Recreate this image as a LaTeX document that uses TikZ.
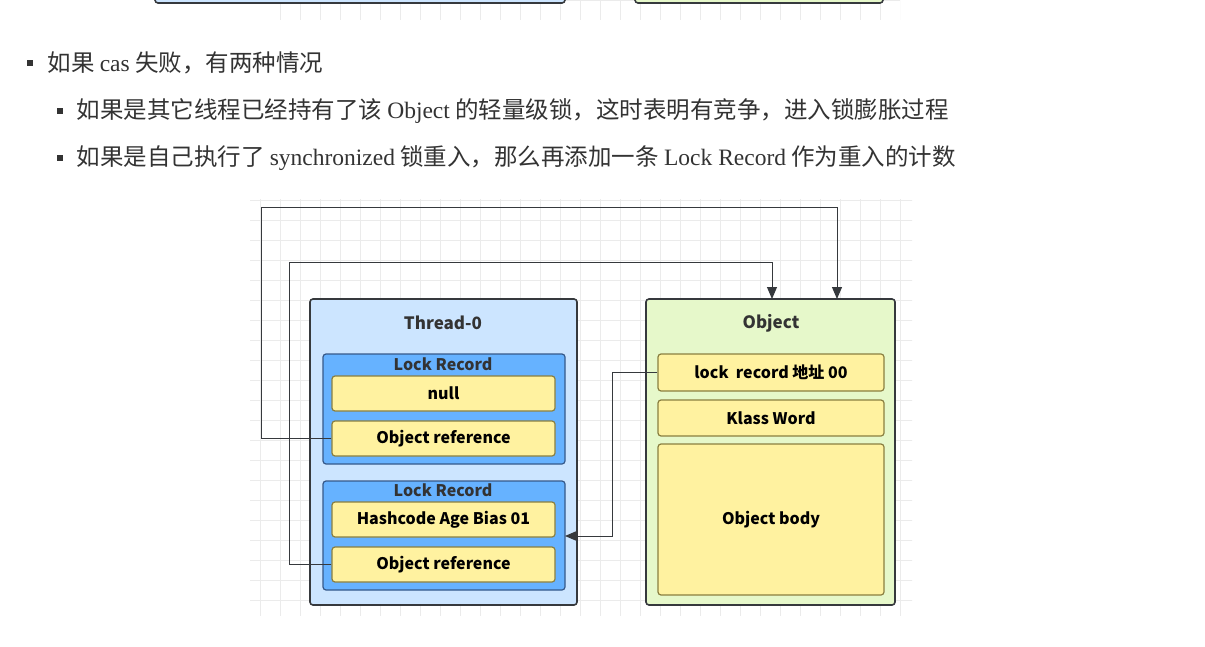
\documentclass[tikz,border=0pt]{standalone}
\usepackage{fontspec}
\setmainfont{Liberation Serif}
\newfontfamily\cjk{Noto Sans CJK SC}
\newfontfamily\dg{Noto Sans CJK SC}
\usetikzlibrary{arrows.meta}
\definecolor{tfill}{HTML}{CCE5FF}
\definecolor{lrfill}{HTML}{66B2FF}
\definecolor{lrdraw}{HTML}{36598A}
\definecolor{yfill}{HTML}{FFF2A0}
\definecolor{ydraw}{HTML}{8A7F40}
\definecolor{gfill}{HTML}{E6F8CA}
\definecolor{odraw}{HTML}{36393D}
\definecolor{gridc}{HTML}{EBEBEB}
\definecolor{txt}{HTML}{333333}
\tikzset{
 outer/.style={draw=odraw,line width=1.6pt,rounded corners=3pt},
 lr/.style={draw=lrdraw,fill=lrfill,line width=1.2pt,rounded corners=3pt},
 yb/.style={draw=ydraw,fill=yfill,line width=1.2pt,rounded corners=3pt,font=\dg\bfseries\fontsize{16}{18}\selectfont,text=black},
 lbl/.style={font=\dg\bfseries\fontsize{16}{18}\selectfont,text=txt},
 ttl/.style={font=\dg\bfseries\fontsize{17}{19}\selectfont,text=txt},
 bul/.style={font=\cjk\fontsize{23.5}{26}\selectfont,text=txt,anchor=west},
 conn/.style={draw=odraw,line width=1pt,-{Triangle[length=12pt,width=10pt]}},
}
\newcommand{\bx}[6]{\node[#1,minimum width=#4pt-#2pt,minimum height=#5pt-#3pt,inner sep=0pt] (#6) at ({(#2+#4)/2},{(#3+#5)/2}) {};}
\begin{document}
\begin{tikzpicture}[x=1pt,y=-1pt]
\useasboundingbox (0,0) rectangle (1205,647);
\fill[white] (0,0) rectangle (1205,647);
% grids
\begin{scope}
\clip (262,0) rectangle (900,20);
\draw[gridc,step=20pt] (250,-20) grid (920,40);
\end{scope}
\begin{scope}
\clip (250,200) rectangle (912,615);
\draw[gridc,step=20pt] (240,190) grid (920,620);
\end{scope}
% partial boxes at top
\draw[outer,fill=tfill] (155,-10) rectangle (565,3);
\draw[outer,fill=gfill] (635,-10) rectangle (883,3);
% bullets
\fill[txt] (27,60) rectangle (33,66);
\fill[txt] (57,108) rectangle (63,114);
\fill[txt] (57,155) rectangle (63,161);
\node[bul] (b1) at (44,63) {如果 {\rmfamily cas} 失败，有两种情况};
\node[bul] (b2) at (73,111) {如果是其它线程已经持有了该 {\rmfamily Object} 的轻量级锁，这时表明有竞争，进入锁膨胀过程};
\node[bul] (b3) at (73,158) {如果是自己执行了 {\rmfamily synchronized} 锁重入，那么再添加一条 {\rmfamily Lock Record} 作为重入的计数};
% Thread
\bx{outer,fill=tfill}{310}{299}{577}{605}{thread}
\node[ttl] (tt) at (443,323) {Thread-0};
\bx{lr}{323}{354}{565}{464}{lr1}
\node[lbl] (lr1t) at (443,364) {Lock Record};
\bx{yb}{332}{376}{555}{411}{null}
\node[yb,draw=none,fill=none] at (null) {null};
\bx{yb}{332}{421}{555}{456}{or1}
\node[yb,draw=none,fill=none] at (or1) {Object reference};
\bx{lr}{323}{481}{565}{590}{lr2}
\node[lbl] (lr2t) at (443,490) {Lock Record};
\bx{yb}{332}{502}{555}{537}{hash}
\node[yb,draw=none,fill=none] at (hash) {Hashcode Age Bias 01};
\bx{yb}{332}{547}{555}{582}{or2}
\node[yb,draw=none,fill=none] at (or2) {Object reference};
% Object
\bx{outer,fill=gfill}{646}{299}{895}{605}{obj}
\node[ttl] (ot) at (771,323) {Object};
\bx{yb}{658}{354}{884}{391}{lrec}
\node[yb,draw=none,fill=none] at (lrec) {lock\ \ record 地址 00};
\bx{yb}{658}{400}{884}{436}{klass}
\node[yb,draw=none,fill=none] at (klass) {Klass Word};
\bx{yb}{658}{444}{884}{595}{body}
\node[yb,draw=none,fill=none] at (body) {Object body};
% connectors
\coordinate (t1) at (837,299);
\coordinate (t2) at (772,299);
\coordinate (h2) at (565,536);
\draw[conn] (or1.west) -- (261,438.5) -- (261,208) -- (837,208) -- (t1);
\draw[conn] (or2.west) -- (289,564.5) -- (289,263) -- (772,263) -- (t2);
\draw[conn] (lrec.west) -- (612,372.5) -- (612,536) -- (h2);
\end{tikzpicture}
\end{document}
